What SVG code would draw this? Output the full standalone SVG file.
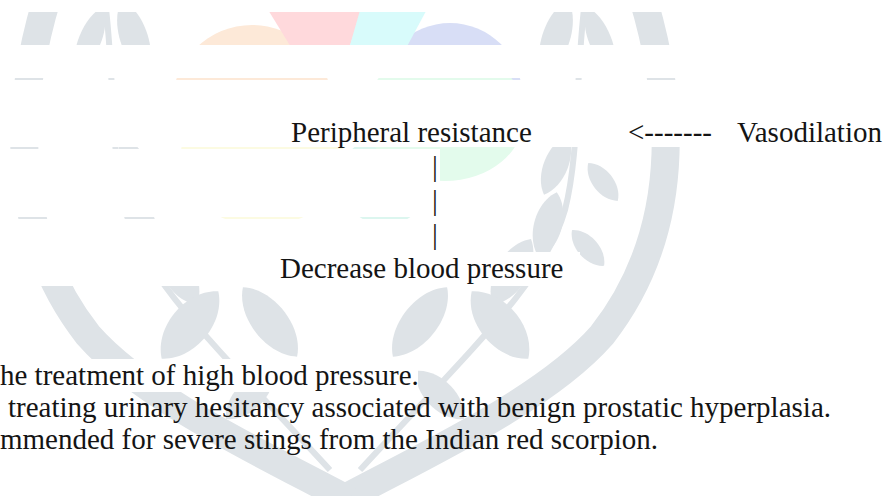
<svg xmlns="http://www.w3.org/2000/svg" width="890" height="496" viewBox="0 0 890 496">
  <defs>
    <style>
      .t { font-family: "Liberation Serif", "Times New Roman", serif; font-size: 29px; fill: #141414; }
      .wm { fill: #dee3e7; }
      .arm { fill: none; stroke: #dee3e7; stroke-width: 28; }
      .stem { fill: none; stroke: #dee3e7; stroke-width: 6; }
      .paper { fill: #ffffff; }
    </style>
    <path id="leaf" class="wm" d="M0 -1 C0.62 -0.55 0.62 0.55 0 1 C-0.62 0.55 -0.62 -0.55 0 -1 Z"/>
    <g id="half">
      <path class="arm" d="M642 -5 C668 80 692 220 602 335 C545 400 425 455 341 500"/>
      <path class="stem" d="M585 0 C575 80 580 150 565 210 C545 280 480 340 360 470"/>
      <use href="#leaf" transform="translate(556 38) rotate(18) scale(30 40)"/>
      <use href="#leaf" transform="translate(600 40) rotate(-22) scale(24 36)"/>
      <use href="#leaf" transform="translate(556 165) rotate(22) scale(26 32)"/>
      <use href="#leaf" transform="translate(548 225) rotate(15) scale(30 34)"/>
      <use href="#leaf" transform="translate(603 182) rotate(-38) scale(22 24)"/>
      <use href="#leaf" transform="translate(588 248) rotate(-42) scale(22 24)"/>
      <use href="#leaf" transform="translate(512 272) rotate(30) scale(34 38)"/>
      <use href="#leaf" transform="translate(420 322) rotate(38) scale(38 44)"/>
      <use href="#leaf" transform="translate(500 325) rotate(-40) scale(42 44)"/>
      <use href="#leaf" transform="translate(440 395) rotate(-45) scale(30 34)"/>
    </g>
  </defs>

  <rect width="890" height="496" fill="#ffffff"/>

  <g id="watermark">
    <use href="#half"/>
    <use href="#half" transform="matrix(-1 0 0 1 690 0)"/>
    <circle cx="252" cy="105" r="80" fill="#fde9d8"/>
    <circle cx="450" cy="95" r="72" fill="#d8def6"/>
    <ellipse cx="262" cy="160" rx="82" ry="66" fill="#fcfbe2"/>
    <ellipse cx="385" cy="180" rx="45" ry="45" fill="#dcf6ef"/>
    <ellipse cx="445" cy="115" rx="80" ry="66" fill="#e3fbec"/>
    <polygon points="262,0 365,0 348,52 294,52" fill="#ffd9dc"/>
    <polygon points="363,0 432,0 404,52 348,52" fill="#d8fbfb"/>
  </g>

  <g id="paper-bands">
    <rect class="paper" x="0" y="0" width="890" height="12"/>
    <rect class="paper" x="0" y="45" width="890" height="33"/>
    <rect class="paper" x="0" y="80" width="890" height="67"/>
    <rect class="paper" x="0" y="149" width="440" height="68"/>
    <rect class="paper" x="0" y="219" width="440" height="33"/>
    <rect class="paper" x="0" y="252" width="580" height="34"/>
    <rect class="paper" x="0" y="359" width="418" height="33"/>
  </g>

  <g id="node-peripheral">
    <text class="t" x="291" y="142">Peripheral resistance</text>
  </g>
  <g id="node-vasodilation">
    <text class="t" x="737" y="142">Vasodilation</text>
  </g>
  <g id="node-decrease">
    <text class="t" x="280" y="278">Decrease blood pressure</text>
  </g>

  <g id="connectors">
    <text class="t" x="628" y="142">&lt;-------</text>
    <text class="t" x="432" y="176">|</text>
    <text class="t" x="432" y="210">|</text>
    <text class="t" x="432" y="244">|</text>
  </g>

  <g id="notes">
    <text class="t" x="0" y="385">he treatment of high blood pressure.</text>
    <text class="t" x="8" y="417">treating urinary hesitancy associated with benign prostatic hyperplasia.</text>
    <text class="t" x="0" y="449">mmended for severe stings from the Indian red scorpion.</text>
  </g>
</svg>
